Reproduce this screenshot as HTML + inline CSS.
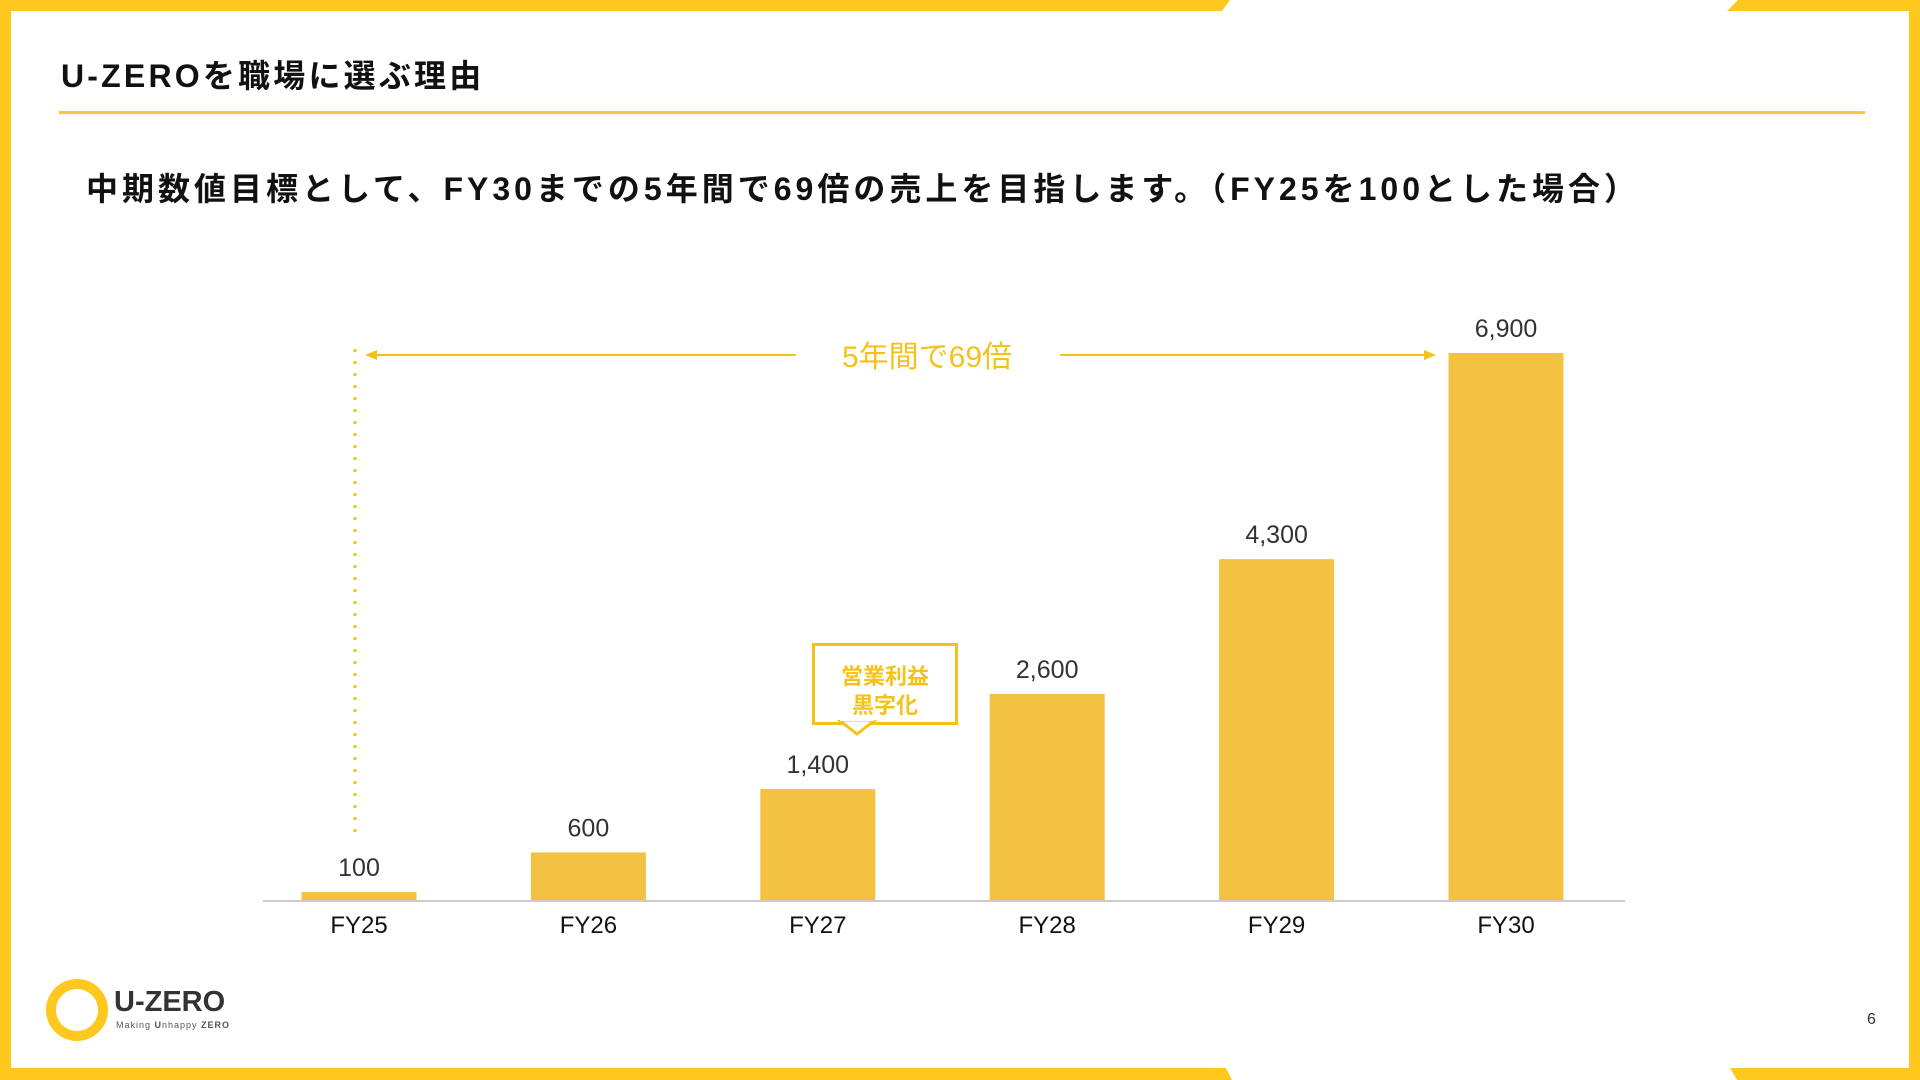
<!DOCTYPE html>
<html><head><meta charset="utf-8"><style>
body{margin:0;width:1920px;height:1080px;overflow:hidden;background:#fff;font-family:"Liberation Sans","Noto Sans CJK JP",sans-serif;}
.abs{position:absolute;}
</style></head><body>
<div style="position:relative;width:1920px;height:1080px;">
<svg class="abs" width="1920" height="1080" style="left:0;top:0">
<polygon points="0,0 1230,0 1222,11 0,11" fill="#FFC81E"/>
<polygon points="1738,0 1920,0 1920,11 1727,11" fill="#FFC81E"/>
<rect x="0" y="0" width="11" height="1080" fill="#FFC81E"/>
<rect x="1909" y="0" width="11" height="1080" fill="#FFC81E"/>
<polygon points="0,1068 1226,1068 1232,1080 0,1080" fill="#FFC81E"/>
<polygon points="1730,1068 1920,1068 1920,1080 1737,1080" fill="#FFC81E"/>
</svg>
<div class="abs" style="left:61px;top:51px;font-size:32px;font-weight:bold;color:#111;letter-spacing:3.2px;">U-ZEROを職場に選ぶ理由</div>
<div class="abs" style="left:59px;top:111px;width:1806px;height:3px;background:#F5C842;"></div>
<div class="abs" style="left:86px;top:164px;font-size:32px;font-weight:bold;color:#111;letter-spacing:4.0px;">中期数値目標として、FY30までの5年間で69倍の売上を目指します。（FY25を100とした場合）</div>
<svg id="chart" class="abs" width="1920" height="1080" style="left:0;top:0"></svg>
<div class="abs" style="left:812px;top:643px;width:140px;height:76px;border:3px solid #F5C21B;"></div>
<svg class="abs" width="40" height="20" style="left:837px;top:720px"><polygon points="2,0 20,14 38,0" fill="#fff" stroke="#F5C21B" stroke-width="3"/><rect x="3" y="-4" width="34" height="5" fill="#fff"/></svg>
<div class="abs" style="left:815px;top:662px;width:140px;text-align:center;font-size:22px;line-height:29px;font-weight:bold;color:#F5C21B;">営業利益<br>黒字化</div>
<svg class="abs" width="70" height="70" style="left:42px;top:975px"><circle cx="35" cy="35" r="26" fill="none" stroke="#FFC81E" stroke-width="10"/></svg>
<div class="abs" style="left:114px;top:986px;font-size:29px;font-weight:bold;color:#333;">U-ZERO</div>
<div class="abs" style="left:116px;top:1020px;font-size:9px;color:#555;letter-spacing:1px;">Making <b>U</b>nhappy <b>ZERO</b></div>
<div class="abs" style="left:1867px;top:1011px;font-size:16px;color:#333;">6</div>
</div>
<script>
const categories=["FY25","FY26","FY27","FY28","FY29","FY30"];
const values=[100,600,1400,2600,4300,6900];
const valueLabels=["100","600","1,400","2,600","4,300","6,900"];
const svg=document.getElementById('chart');
const NS='http://www.w3.org/2000/svg';
const baseY=900, maxV=6900, plotH=547, x0=359, step=229.4, bw=115;
const xPos=i=>x0+i*step;
const yPos=v=>baseY-v/maxV*plotH;
function mk(tag,attrs,text){const e=document.createElementNS(NS,tag);for(const k in attrs)e.setAttribute(k,attrs[k]);if(text!==undefined)e.textContent=text;svg.appendChild(e);return e;}
categories.forEach((c,i)=>{
 const cx=xPos(i), y=yPos(values[i]);
 const b=mk('rect',{x:cx-bw/2,y:y,width:bw,height:baseY-y,fill:'#F4C242'});
 
 
 const t=mk('text',{x:cx,y:y-16,'text-anchor':'middle','font-size':25,fill:'#333','font-family':'Liberation Sans, sans-serif'},valueLabels[i]);
 
 
 const l=mk('text',{x:cx,y:933,'text-anchor':'middle','font-size':24,fill:'#111','font-family':'Liberation Sans, sans-serif'},c);
 
 
});
const ax=mk('line',{x1:263,y1:baseY+1,x2:1625,y2:baseY+1,stroke:'#ccc','stroke-width':2});


const dl=mk('line',{x1:355,y1:349,x2:355,y2:840,stroke:'#F5C21B','stroke-width':3,'stroke-dasharray':'3,9'});


const a1=mk('line',{x1:372,y1:355,x2:796,y2:355,stroke:'#F5C21B','stroke-width':2});


const h1=mk('polygon',{points:'365,355 377,350 377,360',fill:'#F5C21B'});


const a2=mk('line',{x1:1060,y1:355,x2:1428,y2:355,stroke:'#F5C21B','stroke-width':2});


const h2=mk('polygon',{points:'1436,355 1424,350 1424,360',fill:'#F5C21B'});


const at=mk('text',{x:927,y:367,'text-anchor':'middle','font-size':30,fill:'#F5C21B','font-family':'Liberation Sans, Noto Sans CJK JP, sans-serif'},'5年間で69倍');


</script>
</body></html>
